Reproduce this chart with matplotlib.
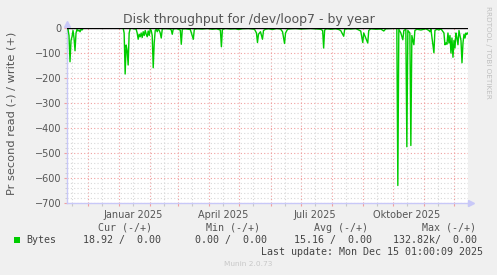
import matplotlib
matplotlib.use("Agg")
import matplotlib.pyplot as plt
import matplotlib.dates as mdates
from matplotlib.ticker import MultipleLocator, FixedLocator, FixedFormatter, NullFormatter
import datetime as dt

# ---- data ----
start_date = dt.datetime(2024, 11, 10)
end_date = dt.datetime(2025, 12, 15)

day_offsets = (
    [1, 2, 3, 4, 5, 6, 7, 8, 9, 10, 11, 12, 13, 14, 15, 16, 17]
    + [40, 56, 57, 58, 59, 60, 61, 62, 63, 64]
    + [69, 70, 71, 72, 73, 74, 75, 76, 77, 78, 79, 80, 81, 82, 83, 84, 85, 86, 87, 88, 89, 90, 91, 92, 93, 94, 95, 96, 97]
    + [103, 104, 105, 106, 109, 113, 114, 115, 118, 123, 126, 127, 130, 135, 140, 145, 149, 153, 154, 155, 158, 163, 168, 171, 175, 181]
    + [187, 189, 190, 191, 193, 195, 196, 198, 201, 205, 209, 213, 215, 217, 218, 220, 223, 228, 233, 238, 243]
    + [253, 255, 256, 257, 259, 263, 268, 271, 273, 276, 277, 280, 283, 288, 291, 293, 295, 296, 298, 300, 301, 303, 308, 313, 316, 318, 323, 329]
    + [330, 331, 333, 335, 336, 338, 339, 340, 342, 343, 344, 346, 347, 349, 353, 358, 361, 362, 363, 366, 367, 369, 371, 373]
    + [376, 377, 378, 379, 380, 381, 382, 383, 384, 385, 386, 387, 388, 389, 390, 391, 392, 393, 394, 395, 396, 397, 398, 399, 400]
)
read_values = (
    [-5, -30, -135, -50, -35, -10, -40, -91, -20, -5, -12, -8, -15, -5, -8, -2, 0]
    + [0, 0, -20, -184, -68, -90, -148, -20, -3, 0]
    + [-5, -20, -45, -25, -35, -20, -38, -15, -30, -10, -25, -35, -12, -30, -5, -10, -30, -159, -60, -10, -5, -15, -3, -10, -20, -40, -5, -3, -2]
    + [-4, -8, -25, -4, -2, -8, -65, -4, -3, -6, -45, -5, -3, -4, -2, -5, -3, -8, -75, -6, -2, -4, -3, -6, -3, -2]
    + [-5, -20, -58, -25, -15, -45, -10, -5, -3, -6, -2, -4, -15, -62, -20, -5, -3, -2, -4, -3, -2]
    + [-5, -10, -80, -8, -3, -5, -3, -6, -10, -33, -5, -3, -4, -2, -8, -12, -58, -20, -40, -60, -10, -3, -5, -4, -12, -3, -2, 0]
    + [-630, -5, -20, -47, -10, -5, -475, -10, -20, -470, -30, -67, -10, -5, -8, -3, -10, -15, -5, -99, -10, -5, -8, -3]
    + [-20, -67, -60, -65, -20, -60, -30, -100, -40, -117, -50, -80, -20, -40, -67, -10, -30, -50, -139, -60, -25, -40, -20, -25, -19]
)

tick_label_months = ["Januar 2025", "April 2025", "Juli 2025", "Oktober 2025"]
tick_label_dates = [dt.datetime(2025, 1, 15), dt.datetime(2025, 4, 15), dt.datetime(2025, 7, 15), dt.datetime(2025, 10, 15)]

legend_headers = ["Cur (-/+)", "Min (-/+)", "Avg (-/+)", "Max (-/+)"]
legend_values = ["18.92 /  0.00", "0.00 /  0.00", "15.16 /  0.00", "132.82k/  0.00"]

# ---- figure ----
W, H = 497, 275
fig = plt.figure(figsize=(W / 100, H / 100), dpi=100, facecolor="#f0f0f0")
L, R, T, B = 67, 468, 28, 203
ax = fig.add_axes([L / W, 1 - B / H, (R - L) / W, (B - T) / H])
ax.set_facecolor("white")

dates = [start_date + dt.timedelta(days=d) for d in day_offsets]
ax.set_xlim(start_date, end_date)
ax.set_ylim(-700, 0)

month_starts = [dt.datetime(2024 + (11 + i) // 12, (11 + i) % 12 + 1, 1) for i in range(13)]
mid_months = [dt.datetime(2024 + (10 + i) // 12, (10 + i) % 12 + 1, 15) for i in range(14)]
mid_months = [d for d in mid_months if start_date <= d <= end_date]

ax.xaxis.set_major_locator(FixedLocator(mdates.date2num(month_starts)))
ax.xaxis.set_major_formatter(NullFormatter())
ax.xaxis.set_minor_locator(FixedLocator(mdates.date2num(mid_months)))
labels = []
for d in mid_months:
    lab = ""
    for td, tl in zip(tick_label_dates, tick_label_months):
        if td == d:
            lab = tl
    labels.append(lab)
ax.xaxis.set_minor_formatter(FixedFormatter(labels))

ax.yaxis.set_major_locator(MultipleLocator(100))
ax.yaxis.set_minor_locator(MultipleLocator(20))

ax.grid(True, which="major", color="#f0a0a0", linestyle=(0, (1, 2)), linewidth=0.8)
ax.grid(True, which="minor", color="#d8d8d8", linestyle=(0, (1, 2)), linewidth=0.8)
ax.set_axisbelow(True)

ax.tick_params(axis="x", which="major", length=2.5, color="#f0a0a0", width=0.8)
ax.tick_params(axis="x", which="minor", length=2, color="#c8c8c8", width=0.8,
               labelsize=7, labelcolor="#555555", pad=3)
ax.tick_params(axis="y", which="major", length=2, color="#f0a0a0", width=0.8,
               labelsize=7, labelcolor="#555555", pad=2)
ax.tick_params(axis="y", which="minor", length=1.5, color="#c8c8c8", width=0.6)

for s in ["top", "right"]:
    ax.spines[s].set_visible(False)
for s in ["left", "bottom"]:
    ax.spines[s].set_color("#c8c8f8")
    ax.spines[s].set_linewidth(1)

ax.plot(dates, read_values, color="#00cc00", linewidth=1.0, zorder=3)
ax.axhline(0, color="black", linewidth=1.0, zorder=4)

ax.plot([0], [1.025], marker="^", color="#c8c8f8", ms=4.5, transform=ax.transAxes, clip_on=False)
ax.plot([1.008], [0], marker=">", color="#c8c8f8", ms=4.5, transform=ax.transAxes, clip_on=False)

fig.text(248.5 / W, 1 - 19 / H, "Disk throughput for /dev/loop7 - by year", ha="center", va="center",
         fontsize=9, color="#555555")
fig.text(12 / W, 1 - 113 / H, "Pr second read (-) / write (+)", rotation=90, ha="center", va="center",
         fontsize=8.2, color="#555555")
fig.text(488 / W, 1 - 52 / H, "RRDTOOL / TOBI OETIKER", rotation=270, ha="center", va="center",
         fontsize=5.2, color="#c0c0c0")

mono = "DejaVu Sans Mono"
hdr_right = [152, 260, 368, 476]
for x, t in zip(hdr_right, legend_headers):
    fig.text(x / W, 1 - 228 / H, t, ha="right", va="center", fontsize=7.2, family=mono, color="#555555")
fig.patches.append(plt.Rectangle((14 / W, 1 - 243 / H), 6 / W, 6 / H, transform=fig.transFigure,
                                 facecolor="#00cc00", edgecolor="none"))
fig.text(26 / W, 1 - 240 / H, "Bytes", ha="left", va="center", fontsize=7.2, family=mono, color="#444444")
val_right = [161, 267, 372, 477]
for x, t in zip(val_right, legend_values):
    fig.text(x / W, 1 - 240 / H, t, ha="right", va="center", fontsize=7.2, family=mono, color="#444444")
fig.text(483 / W, 1 - 252 / H, "Last update: Mon Dec 15 01:00:09 2025", ha="right", va="center",
         fontsize=7.2, family=mono, color="#444444")
fig.text(248 / W, 1 - 264 / H, "Munin 2.0.73", ha="center", va="center", fontsize=5.3, color="#c8c8c8")

fig.savefig("out.png", dpi=100, facecolor=fig.get_facecolor())
